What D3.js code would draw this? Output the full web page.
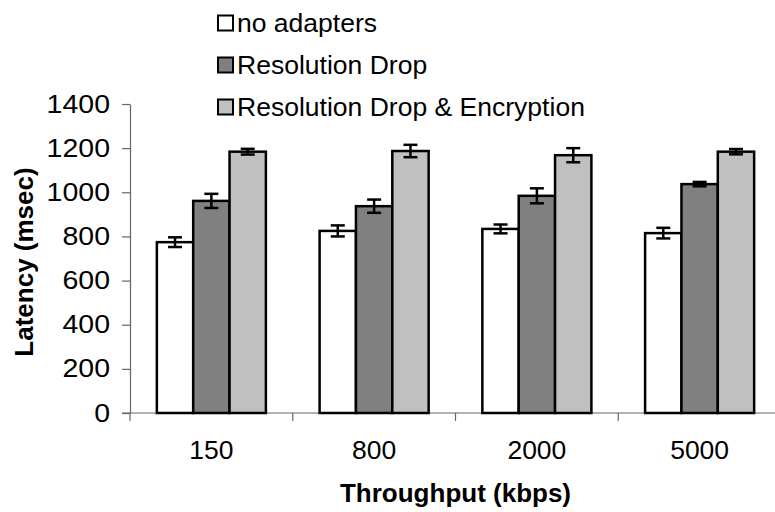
<!DOCTYPE html>
<html>
<head>
<meta charset="utf-8">
<script src="https://cdn.jsdelivr.net/npm/d3@7"></script>
<style>
  html, body { margin: 0; padding: 0; background: #fff; }
  svg { display: block; font-family: "Liberation Sans", Arial, sans-serif; }
</style>
</head>
<body>
<svg id="chart" width="775" height="512"></svg>
<script>
// Throughput categories (kbps)
const categories = ["150", "800", "2000", "5000"];
const seriesNames = ["no adapters", "Resolution Drop", "Resolution Drop & Encryption"];
const seriesFills = ["#ffffff", "#808080", "#c0c0c0"];

// Mean latency (msec) per configuration
const noAdapters      = [774, 825, 834, 815];
const resolutionDrop  = [961, 937, 984, 1037];
const resDropEncrypt  = [1184, 1187, 1168, 1184];

// Error bar half-widths (msec)
const noAdaptersErr     = [22, 25, 20, 24];
const resolutionDropErr = [32, 30, 34, 10];
const resDropEncryptErr = [13, 28, 32, 12];

const yTicks = [0, 200, 400, 600, 800, 1000, 1200, 1400];

const values = [noAdapters, resolutionDrop, resDropEncrypt];
const errors = [noAdaptersErr, resolutionDropErr, resDropEncryptErr];

const svg = d3.select("#chart");

// widen glyphs horizontally by factor k
function stretch(sel, k) {
  sel.each(function () {
    const len = this.getComputedTextLength();
    d3.select(this).attr("textLength", len * k).attr("lengthAdjust", "spacingAndGlyphs");
  });
}

const plot = { left: 130, right: 781, top: 104, bottom: 413 };

const y = d3.scaleLinear().domain([0, 1400]).range([plot.bottom, plot.top]);
const x0 = d3.scaleBand().domain(categories).range([plot.left, plot.right]);
const groupW = x0.bandwidth() * 0.67;
const x1 = d3.scaleBand().domain(d3.range(seriesNames.length))
  .range([(x0.bandwidth() - groupW) / 2, (x0.bandwidth() + groupW) / 2]);

// y axis
const yAxis = d3.axisLeft(y).tickValues(yTicks).tickFormat(d3.format("d"))
  .tickSize(8).tickSizeOuter(0).tickPadding(12);
const gy = svg.append("g").attr("transform", `translate(${plot.left},0)`).call(yAxis);
gy.select(".domain").attr("stroke", "#666").attr("stroke-width", 1.2);
gy.selectAll(".tick line").attr("stroke", "#666").attr("stroke-width", 1.2);
gy.selectAll(".tick text").attr("font-size", 25).attr("fill", "#000")
  .attr("font-family", "'Liberation Sans', Arial, sans-serif").call(stretch, 1.14);

// x axis: ticks on category boundaries
const gx = svg.append("g").attr("transform", `translate(0,${plot.bottom})`);
gx.append("line").attr("x1", plot.left - 8).attr("x2", plot.right).attr("y1", 0).attr("y2", 0)
  .attr("stroke", "#666").attr("stroke-width", 1.2);
const bounds = categories.map(c => x0(c)).concat([plot.right]);
gx.selectAll("line.tk").data(bounds).join("line").attr("class", "tk")
  .attr("x1", d => d).attr("x2", d => d).attr("y1", 0).attr("y2", 8)
  .attr("stroke", "#666").attr("stroke-width", 1.2);
gx.selectAll("text.cat").data(categories).join("text").attr("class", "cat")
  .attr("x", d => x0(d) + x0.bandwidth() / 2).attr("y", 46)
  .attr("text-anchor", "middle").attr("font-size", 25).text(d => d).call(stretch, 1.06);

// bars
const groups = svg.append("g").selectAll("g").data(categories).join("g")
  .attr("transform", d => `translate(${x0(d)},0)`);

groups.each(function (cat, ci) {
  const g = d3.select(this);
  seriesNames.forEach((name, si) => {
    const v = values[si][ci];
    g.append("rect")
      .attr("x", x1(si)).attr("y", y(v))
      .attr("width", x1.bandwidth()).attr("height", y(0) - y(v))
      .attr("fill", seriesFills[si]).attr("stroke", "#000").attr("stroke-width", 2.5);
  });
  seriesNames.forEach((name, si) => {
    const v = values[si][ci], e = errors[si][ci];
    const cx = x1(si) + x1.bandwidth() / 2;
    const eg = g.append("g").attr("stroke", "#000").attr("stroke-width", 2.5);
    eg.append("line").attr("x1", cx).attr("x2", cx).attr("y1", y(v + e)).attr("y2", y(v - e));
    eg.append("line").attr("x1", cx - 7).attr("x2", cx + 7).attr("y1", y(v + e)).attr("y2", y(v + e));
    eg.append("line").attr("x1", cx - 7).attr("x2", cx + 7).attr("y1", y(v - e)).attr("y2", y(v - e));
  });
});

// axis titles
svg.append("text").attr("x", (plot.left + plot.right) / 2).attr("y", 502)
  .attr("text-anchor", "middle").attr("font-size", 26).attr("font-weight", "bold")
  .text("Throughput (kbps)");
svg.append("text").attr("transform", `translate(33,262) rotate(-90)`)
  .attr("text-anchor", "middle").attr("font-size", 26).attr("font-weight", "bold")
  .text("Latency (msec)");

// legend
const legend = svg.append("g").attr("transform", "translate(218,0)");
const rows = legend.selectAll("g").data(seriesNames).join("g")
  .attr("transform", (d, i) => `translate(0,${23 + i * 42})`);
rows.append("rect").attr("x", 0).attr("y", -7.5).attr("width", 15).attr("height", 15)
  .attr("fill", (d, i) => seriesFills[i]).attr("stroke", "#000").attr("stroke-width", 2);
rows.append("text").attr("x", 19).attr("y", 9).attr("font-size", 26).text(d => d).call(stretch, 1.02);
</script>
</body>
</html>
